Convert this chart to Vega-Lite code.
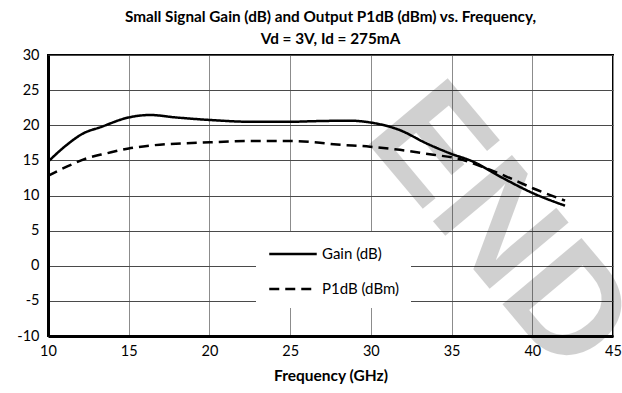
{
  "$schema": "https://vega.github.io/schema/vega-lite/v6.json",
  "width": 565,
  "height": 281,
  "autosize": {"type": "none"},
  "padding": {"left": 48, "top": 55, "right": 9, "bottom": 57},
  "background": "white",
  "config": {
    "font": "Lato",
    "view": {"stroke": "black", "strokeWidth": 2}
  },
  "title": {
    "text": ["Small Signal Gain (dB) and Output P1dB (dBm) vs. Frequency,", "Vd = 3V, Id = 275mA"],
    "fontSize": 15.3,
    "fontWeight": "bold",
    "font": "Lato",
    "color": "black",
    "anchor": "middle",
    "lineHeight": 22,
    "offset": 4,
    "dy": 4
  },
  "datasets": {
    "wm": [{"f": 37.9, "v": 5.2, "label": "END"}],
    "curves": [
      {"series": "Gain (dB)", "f": 10.0, "v": 14.8},
      {"series": "Gain (dB)", "f": 11.16, "v": 17.2},
      {"series": "Gain (dB)", "f": 12.19, "v": 18.85},
      {"series": "Gain (dB)", "f": 13.22, "v": 19.7},
      {"series": "Gain (dB)", "f": 14.98, "v": 21.1},
      {"series": "Gain (dB)", "f": 16.32, "v": 21.46},
      {"series": "Gain (dB)", "f": 17.97, "v": 21.1},
      {"series": "Gain (dB)", "f": 20.04, "v": 20.75},
      {"series": "Gain (dB)", "f": 22.5, "v": 20.5},
      {"series": "Gain (dB)", "f": 25.0, "v": 20.5},
      {"series": "Gain (dB)", "f": 26.85, "v": 20.6},
      {"series": "Gain (dB)", "f": 28.7, "v": 20.65},
      {"series": "Gain (dB)", "f": 29.95, "v": 20.4},
      {"series": "Gain (dB)", "f": 31.8, "v": 19.3},
      {"series": "Gain (dB)", "f": 33.46, "v": 17.4},
      {"series": "Gain (dB)", "f": 34.9, "v": 16.0},
      {"series": "Gain (dB)", "f": 36.35, "v": 14.8},
      {"series": "Gain (dB)", "f": 38.0, "v": 12.7},
      {"series": "Gain (dB)", "f": 40.07, "v": 10.3},
      {"series": "Gain (dB)", "f": 42.03, "v": 8.55},
      {"series": "P1dB (dBm)", "f": 10.0, "v": 12.8},
      {"series": "P1dB (dBm)", "f": 11.16, "v": 14.1},
      {"series": "P1dB (dBm)", "f": 12.4, "v": 15.3},
      {"series": "P1dB (dBm)", "f": 13.63, "v": 16.0},
      {"series": "P1dB (dBm)", "f": 15.0, "v": 16.7},
      {"series": "P1dB (dBm)", "f": 16.32, "v": 17.1},
      {"series": "P1dB (dBm)", "f": 20.04, "v": 17.57},
      {"series": "P1dB (dBm)", "f": 22.5, "v": 17.75},
      {"series": "P1dB (dBm)", "f": 25.0, "v": 17.75},
      {"series": "P1dB (dBm)", "f": 26.85, "v": 17.5},
      {"series": "P1dB (dBm)", "f": 27.7, "v": 17.3},
      {"series": "P1dB (dBm)", "f": 29.95, "v": 16.95},
      {"series": "P1dB (dBm)", "f": 31.8, "v": 16.5},
      {"series": "P1dB (dBm)", "f": 33.87, "v": 15.8},
      {"series": "P1dB (dBm)", "f": 35.3, "v": 15.3},
      {"series": "P1dB (dBm)", "f": 36.77, "v": 14.2},
      {"series": "P1dB (dBm)", "f": 38.4, "v": 12.7},
      {"series": "P1dB (dBm)", "f": 40.07, "v": 11.0},
      {"series": "P1dB (dBm)", "f": 42.03, "v": 9.26}
    ]
  },
  "encoding": {
    "x": {
      "field": "f",
      "type": "quantitative",
      "scale": {"domain": [10, 45], "nice": false, "zero": false},
      "axis": {
        "title": "Frequency (GHz)",
        "titleFontWeight": "bold",
        "titleFontSize": 15.5,
        "titleColor": "black",
        "titleFont": "Lato",
        "titlePadding": 11,
        "values": [10, 15, 20, 25, 30, 35, 40, 45],
        "labelExpr": "toString(datum.value)",
        "labelFontSize": 14.5,
        "labelColor": "black",
        "labelFont": "Lato",
        "labelFlush": false,
        "labelPadding": 8,
        "ticks": false,
        "domainColor": "black",
        "domainWidth": 3,
        "grid": true,
        "gridColor": "#8c8c8c",
        "gridWidth": 1
      }
    },
    "y": {
      "field": "v",
      "type": "quantitative",
      "scale": {"domain": [-10, 30], "nice": false, "zero": false},
      "axis": {
        "title": null,
        "values": [-10, -5, 0, 5, 10, 15, 20, 25, 30],
        "labelExpr": "toString(datum.value)",
        "labelFontSize": 14.5,
        "labelColor": "black",
        "labelFont": "Lato",
        "labelPadding": 9,
        "ticks": false,
        "domainColor": "black",
        "domainWidth": 3,
        "grid": true,
        "gridColor": "#4a4a4a",
        "gridWidth": 1
      }
    }
  },
  "layer": [
    {
      "data": {"name": "wm"},
      "mark": {
        "type": "text",
        "angle": 50,
        "fontSize": 150,
        "font": "Liberation Sans",
        "fontWeight": "bold",
        "fill": "black",
        "opacity": 0.18,
        "align": "center",
        "baseline": "middle",
        "clip": false
      },
      "encoding": {"text": {"field": "label"}}
    },
    {
      "data": {"name": "curves"},
      "mark": {"type": "line", "interpolate": "monotone", "color": "black", "strokeWidth": 2.5},
      "encoding": {
        "strokeDash": {
          "field": "series",
          "type": "nominal",
          "scale": {"domain": ["Gain (dB)", "P1dB (dBm)"], "range": [[1, 0], [10, 6]]},
          "legend": {
            "title": null,
            "orient": "none",
            "legendX": 208,
            "legendY": 177,
            "direction": "vertical",
            "fillColor": "white",
            "padding": 11,
            "symbolType": "M-2.5,0H2.5",
            "symbolSize": 361,
            "symbolStrokeWidth": 2.5,
            "symbolStrokeColor": "black",
            "symbolOffset": 15,
            "labelOffset": 18,
            "rowPadding": 16,
            "labelFontSize": 15,
            "labelColor": "black",
            "labelFont": "Lato"
          }
        }
      }
    }
  ]
}
